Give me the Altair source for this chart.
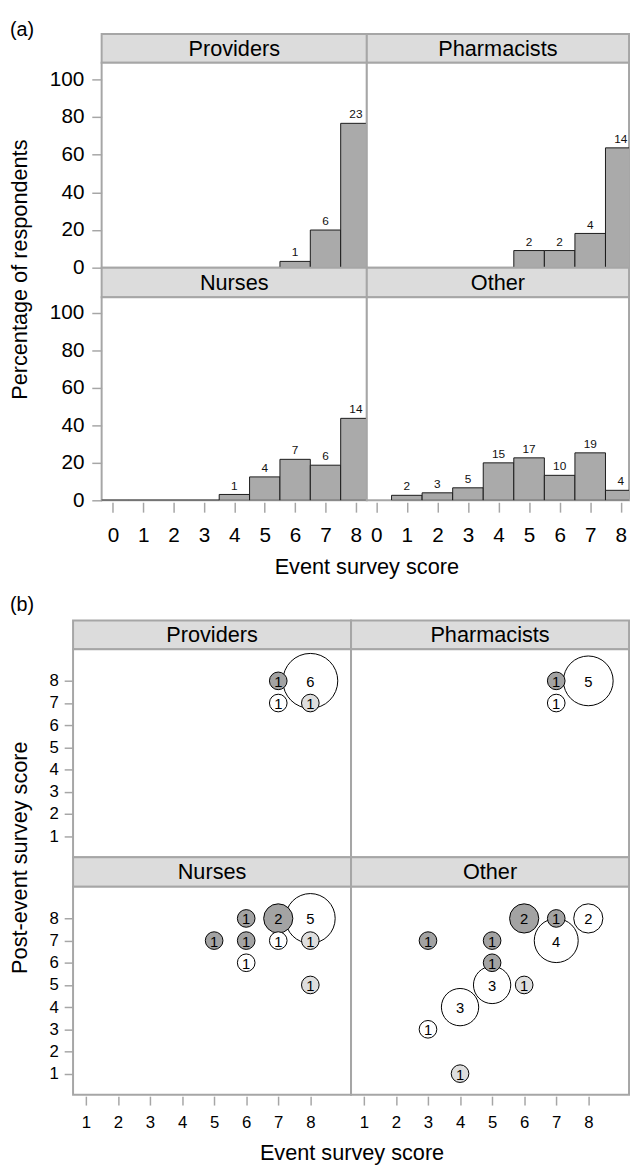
import altair as alt
import pandas as pd

FONT = "Liberation Sans"
BAR_FILL = "#aaaaaa"
BAR_STROKE = "#1a1a1a"
STRIP_FILL = "#dcdcdc"
FRAME = "#a6a6a6"
TICK = "#a6a6a6"
UP_FILL = "#a3a3a3"
SAME_FILL = "#ffffff"
DOWN_FILL = "#dedede"

# ---------- (a) histogram data ----------
scores = [0, 1, 2, 3, 4, 5, 6, 7, 8]
providers_n = [0, 0, 0, 0, 0, 0, 1, 6, 23]
pharmacists_n = [0, 0, 0, 0, 0, 2, 2, 4, 14]
nurses_n = [0, 0, 0, 0, 1, 4, 7, 6, 14]
other_n = [0, 2, 3, 5, 15, 17, 10, 19, 4]
pct_ticks = [0, 20, 40, 60, 80, 100]
# first histogram bin drawn in each panel (empty bins are drawn as flat lines)
providers_first_bin = 1
pharmacists_first_bin = 1
nurses_first_bin = 0
other_first_bin = 1

# ---------- (b) bubble data ----------
providers_event = [7, 8, 7, 8]
providers_post = [8, 8, 7, 7]
providers_count = [1, 6, 1, 1]

pharmacists_event = [7, 8, 7]
pharmacists_post = [8, 8, 7]
pharmacists_count = [1, 5, 1]

nurses_event = [6, 7, 8, 5, 6, 7, 8, 6, 8]
nurses_post = [8, 8, 8, 7, 7, 7, 7, 6, 5]
nurses_count = [1, 2, 5, 1, 1, 1, 1, 1, 1]

other_event = [6, 7, 8, 3, 5, 7, 5, 5, 6, 4, 3, 4]
other_post = [8, 8, 8, 7, 7, 7, 6, 5, 5, 4, 3, 1]
other_count = [2, 1, 2, 1, 1, 4, 1, 3, 1, 3, 1, 1]

score_ticks_b = [1, 2, 3, 4, 5, 6, 7, 8]
change_levels = ["Increased", "Same", "Decreased"]


def text_layer(txt, x, y, size, angle=0, align="center", baseline="alphabetic"):
    mk = dict(font=FONT, fontSize=size, align=align, baseline=baseline,
              color="black")
    if angle:
        mk["angle"] = angle
    return alt.Chart(pd.DataFrame({"t": [txt]})).mark_text(**mk).encode(
        text="t:N", x=alt.value(x), y=alt.value(y))


def text_cell(txt, w, h, x, y, size, angle=0, align="center", fill=None,
              baseline="alphabetic"):
    props = dict(width=w, height=h)
    if fill:
        props["view"] = alt.ViewBackground(fill=fill, stroke="transparent")
    return text_layer(txt, x, y, size, angle, align, baseline).properties(**props)


def blank(w, h):
    return text_cell(" ", w, h, w / 2, h / 2, 4, baseline="middle")


def strip(label, w, h):
    return text_layer(label, w / 2, h / 2 + 7.5, 22).properties(
        width=w, height=h,
        view=alt.ViewBackground(fill=STRIP_FILL, stroke=FRAME, strokeWidth=2))


def axis(values, size, tick, pad, offset=0):
    return alt.Axis(values=values, tickSize=tick, offset=offset, labelPadding=pad,
                    labelFontSize=size, labelFont=FONT, labelColor="black",
                    tickColor=TICK, tickWidth=1.5, domain=False, grid=False,
                    title=None, labelFlush=False, labelOverlap=False)


def hist_panel(counts, first_bin, w, h, xdom, ydom, show_x, show_y, extra=None):
    total = sum(counts)
    df = pd.DataFrame({"score": scores, "n": counts})
    df = df[df["score"] >= first_bin].copy()
    df["lo"] = df["score"] - 0.5
    df["hi"] = df["score"] + 0.5
    df["pct"] = df["n"] / total * 100
    df["base"] = 0
    xaxis = axis(scores, 21, 10, 13, offset=2) if show_x else None
    yaxis = axis(pct_ticks, 21, 10, 8) if show_y else None
    xs = alt.Scale(domain=xdom, nice=False, zero=False)
    ys = alt.Scale(domain=ydom, nice=False, zero=False)
    bars = alt.Chart(df).mark_rect(
        fill=BAR_FILL, stroke=BAR_STROKE, strokeWidth=1, clip=True
    ).encode(
        x=alt.X("lo:Q", scale=xs, axis=xaxis), x2="hi:Q",
        y=alt.Y("pct:Q", scale=ys, axis=yaxis), y2="base:Q",
    )
    labels = alt.Chart(df).transform_filter("datum.n > 0").mark_text(
        font=FONT, fontSize=12, baseline="alphabetic", dy=-5, color="#111111"
    ).encode(
        x=alt.X("score:Q", scale=xs, axis=xaxis),
        y=alt.Y("pct:Q", scale=ys, axis=yaxis), text="n:Q"
    )
    layers = [bars, labels] + ([extra] if extra is not None else [])
    return alt.layer(*layers).properties(
        width=w, height=h,
        view=alt.ViewBackground(fill="white", stroke=FRAME, strokeWidth=2))


def bubble_panel(ev, po, cnt, w, h, show_x, show_y, extra=None):
    df = pd.DataFrame({"event": ev, "post": po, "n": cnt})
    df["change"] = [
        "Increased" if p > e else ("Decreased" if p < e else "Same")
        for e, p in zip(ev, po)
    ]
    xaxis = axis(score_ticks_b, 17, 9, 10, offset=1.5) if show_x else None
    yaxis = axis(score_ticks_b, 17, 9, 6) if show_y else None
    xs = alt.Scale(domain=[0.6, 9.27], nice=False, zero=False)
    ys = alt.Scale(domain=[0.05, 9.43], nice=False, zero=False)
    base = alt.Chart(df).encode(
        x=alt.X("event:Q", scale=xs, axis=xaxis),
        y=alt.Y("post:Q", scale=ys, axis=yaxis),
    )
    pts = base.mark_circle(opacity=1, stroke="black", strokeWidth=1).encode(
        size=alt.Size("n:Q", scale=alt.Scale(domain=[1, 6], range=[320, 3100], zero=False),
                      legend=None),
        fill=alt.Fill("change:N", scale=alt.Scale(domain=change_levels,
                                                   range=[UP_FILL, SAME_FILL, DOWN_FILL]),
                      legend=None),
        order=alt.Order("n:Q", sort="descending"),
    )
    txt = base.mark_text(font=FONT, fontSize=15, baseline="middle", dy=1,
                         color="black").encode(text="n:Q")
    layers = [pts, txt] + ([extra] if extra is not None else [])
    return alt.layer(*layers).properties(
        width=w, height=h,
        view=alt.ViewBackground(fill="white", stroke=FRAME, strokeWidth=2))


# ---------- part (a) : flat 3-column grid ----------
CA, AL, AR = 94, 269, 266
xdomL = [-0.37, 8.36]
xdomR = [-0.31, 8.27]
partA = alt.concat(
    text_cell("(a)", CA, 17, 1, 18.5, 20, align="left", fill="white"), blank(AL, 17), blank(AR, 17),
    blank(CA, 29), strip("Providers", AL, 29), strip("Pharmacists", AR, 29),
    text_cell("Percentage of respondents", CA, 208, 17.8, 210, 22, angle=270),
    hist_panel(providers_n, providers_first_bin, AL, 208, xdomL, [0, 108.9], False, True),
    hist_panel(pharmacists_n, pharmacists_first_bin, AR, 208, xdomR, [0, 108.9], False, False),
    blank(CA, 30), strip("Nurses", AL, 30), strip("Other", AR, 30),
    blank(CA, 206),
    hist_panel(nurses_n, nurses_first_bin, AL, 206, xdomL, [0, 108.4], True, True,
               extra=text_layer("Event survey score", 269, 281, 22)),
    hist_panel(other_n, other_first_bin, AR, 206, xdomR, [0, 108.4], True, False),
    columns=3, spacing=0, bounds="flush")

# ---------- part (b) ----------
CB, BW = 65, 282
partB = alt.concat(
    text_cell("(b)", CB, 34, 1, 24, 20, align="left"), blank(BW, 34), blank(BW, 34),
    blank(CB, 29), strip("Providers", BW, 29), strip("Pharmacists", BW, 29),
    text_cell("Post-event survey score", CB, 211, 17.8, 211.5, 22, angle=270),
    bubble_panel(providers_event, providers_post, providers_count, BW, 211, False, True),
    bubble_panel(pharmacists_event, pharmacists_post, pharmacists_count, BW, 211, False, False),
    blank(CB, 30), strip("Nurses", BW, 30), strip("Other", BW, 30),
    blank(CB, 211),
    bubble_panel(nurses_event, nurses_post, nurses_count, BW, 211, True, True,
                 extra=text_layer("Event survey score", 283, 277.5, 22)),
    bubble_panel(other_event, other_post, other_count, BW, 211, True, False),
    columns=3, spacing=0, bounds="flush")

chart = alt.vconcat(partA, partB, spacing=7).properties(
    padding=0
).configure_view(stroke="transparent")

chart.save("out.html", embed_options={"renderer": "svg", "actions": False})
